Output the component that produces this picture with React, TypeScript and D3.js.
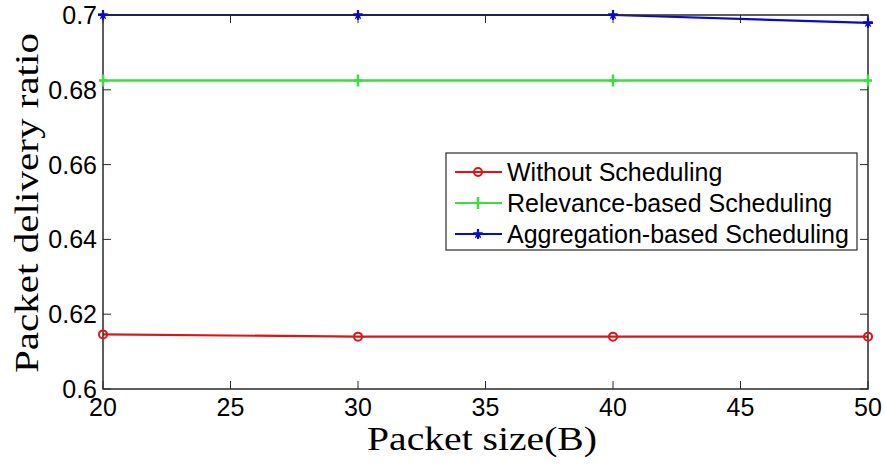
import React, { useEffect, useRef } from "react";
import * as d3 from "d3";

const packetSizes = [20, 30, 40, 50];
const withoutScheduling = [0.6146, 0.614, 0.614, 0.614];
const relevanceScheduling = [0.6825, 0.6825, 0.6825, 0.6825];
const aggregationScheduling = [0.7, 0.7, 0.7, 0.6979];
const xTicks = [20, 25, 30, 35, 40, 45, 50];
const yTicks = [0.6, 0.62, 0.64, 0.66, 0.68, 0.7];
const seriesNames = ["Without Scheduling", "Relevance-based Scheduling", "Aggregation-based Scheduling"];

const W = 885;
const H = 466;
const left = 103, right = 868, top = 15, bottom = 389;

const App = () => {
  const ref = useRef<SVGGElement>(null);

  useEffect(() => {
    const g = d3.select(ref.current);
    g.selectAll("*").remove();

    const x = d3.scaleLinear().domain([20, 50]).range([left, right]);
    const y = d3.scaleLinear().domain([0.6, 0.7]).range([bottom, top]);

    const series = [
      { name: seriesNames[0], values: withoutScheduling, color: "#dd1515", marker: "circle" },
      { name: seriesNames[1], values: relevanceScheduling, color: "#3fdc3f", marker: "plus" },
      { name: seriesNames[2], values: aggregationScheduling, color: "#0a0ac8", marker: "star" },
    ];

    const drawMarker = (sel: any, type: string, color: string) => {
      if (type === "circle") {
        sel.append("circle").attr("r", 4).attr("fill", "none").attr("stroke", color).attr("stroke-width", 2);
      } else if (type === "plus") {
        sel.append("path").attr("d", "M-4,0H4M0,-6V6").attr("stroke", color).attr("stroke-width", 2.5);
      } else {
        sel.append("path").attr("d", d3.symbol(d3.symbolStar, 35)()).attr("fill", color);
        sel.append("path").attr("d", "M-5,0H5M0,-5V5").attr("stroke", color).attr("stroke-width", 2.2);
      }
    };

    const line = d3.line<number>()
      .x((d, i) => x(packetSizes[i]))
      .y(d => y(d));

    series.forEach(s => {
      g.append("path")
        .attr("d", line(s.values))
        .attr("fill", "none")
        .attr("stroke", s.color)
        .attr("stroke-width", s.marker === "plus" ? 2.6 : 2.2);
    });

    // axes box and ticks
    const axisColor = "#2a2a2a";
    g.append("rect")
      .attr("x", left).attr("y", top)
      .attr("width", right - left).attr("height", bottom - top)
      .attr("fill", "none").attr("stroke", axisColor).attr("stroke-width", 1.5);

    xTicks.forEach(t => {
      g.append("line").attr("x1", x(t)).attr("x2", x(t)).attr("y1", bottom).attr("y2", bottom - 8)
        .attr("stroke", axisColor);
      g.append("line").attr("x1", x(t)).attr("x2", x(t)).attr("y1", top).attr("y2", top + 8)
        .attr("stroke", axisColor);
      g.append("text").attr("x", x(t)).attr("y", bottom + 27)
        .attr("text-anchor", "middle")
        .style("font-family", "'Liberation Sans', Arial, sans-serif")
        .style("font-size", "25px")
        .text(t);
    });

    yTicks.forEach(t => {
      g.append("line").attr("x1", left).attr("x2", left + 8).attr("y1", y(t)).attr("y2", y(t))
        .attr("stroke", axisColor);
      g.append("line").attr("x1", right).attr("x2", right - 8).attr("y1", y(t)).attr("y2", y(t))
        .attr("stroke", axisColor);
      g.append("text").attr("x", left - 6).attr("y", y(t) + 9)
        .attr("text-anchor", "end")
        .style("font-family", "'Liberation Sans', Arial, sans-serif")
        .style("font-size", "25px")
        .text(String(t));
    });

    // markers on top of the frame
    series.forEach(s => {
      s.values.forEach((v, i) => {
        const m = g.append("g").attr("transform", `translate(${x(packetSizes[i])},${y(v)})`);
        drawMarker(m, s.marker, s.color);
      });
    });

    // axis labels
    g.append("text")
      .attr("x", 482).attr("y", 450)
      .attr("text-anchor", "middle")
      .style("font-family", "'Liberation Serif', 'DejaVu Serif', serif")
      .style("font-size", "33px")
      .attr("textLength", 230)
      .attr("lengthAdjust", "spacingAndGlyphs")
      .text("Packet size(B)");

    g.append("text")
      .attr("transform", `translate(38,${203}) rotate(-90)`)
      .attr("text-anchor", "middle")
      .style("font-family", "'Liberation Serif', 'DejaVu Serif', serif")
      .style("font-size", "33px")
      .attr("textLength", 340)
      .attr("lengthAdjust", "spacingAndGlyphs")
      .text("Packet delivery ratio");

    // legend
    const lg = g.append("g");
    lg.append("rect")
      .attr("x", 446).attr("y", 153).attr("width", 411).attr("height", 97)
      .attr("fill", "white").attr("stroke", axisColor).attr("stroke-width", 1.2);
    series.forEach((s, i) => {
      const cy = 172 + i * 31;
      lg.append("line").attr("x1", 455).attr("x2", 502).attr("y1", cy).attr("y2", cy)
        .attr("stroke", s.color).attr("stroke-width", 2.2);
      const m = lg.append("g").attr("transform", `translate(478,${cy})`);
      drawMarker(m, s.marker, s.color);
      lg.append("text").attr("x", 507).attr("y", cy + 9)
        .style("font-family", "'Liberation Sans', Arial, sans-serif")
        .style("font-size", "25px")
        .text(s.name);
    });
  }, []);

  return (
    <svg width={W} height={H} style={{ position: "absolute", left: 0, top: 0, background: "white" }}>
      <g ref={ref} />
    </svg>
  );
};

export default App;
